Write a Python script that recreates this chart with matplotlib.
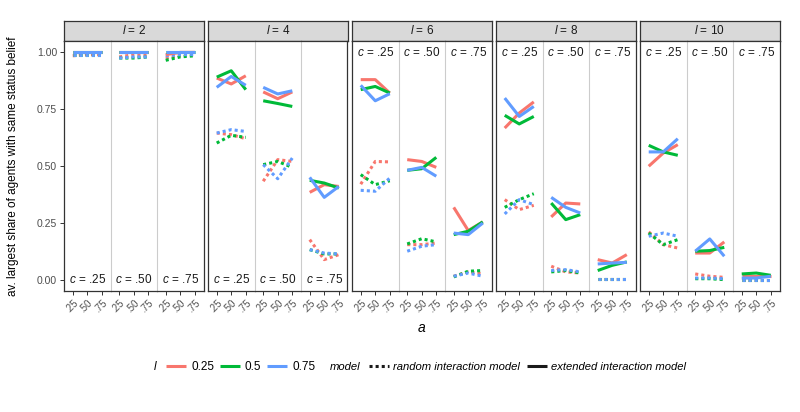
import numpy as np
import matplotlib
matplotlib.use("Agg")
from matplotlib import pyplot as plt
from matplotlib.lines import Line2D

plt.rcParams['font.family'] = ['Liberation Sans', 'DejaVu Sans']
plt.rcParams['mathtext.fontset'] = 'custom'
plt.rcParams['mathtext.it'] = 'Liberation Sans:italic'
plt.rcParams['mathtext.rm'] = 'Liberation Sans'

I_levels = [2, 4, 6, 8, 10]
c_labels = ['.25', '.50', '.75']
a_labels = ['.25', '.50', '.75']
l_labels = ['0.25', '0.5', '0.75']
l_colors = ['#F8766D', '#00BA38', '#619CFF']

# values: [c][l][a]  (l = 0.25, 0.5, 0.75)
ext_I2 = [[[1.0, 1.0, 1.0], [1.0, 1.0, 1.0], [1.0, 1.0, 1.0]],
          [[1.0, 1.0, 1.0], [1.0, 1.0, 1.0], [1.0, 1.0, 1.0]],
          [[0.99, 1.0, 1.0], [1.0, 1.0, 1.0], [1.0, 1.0, 1.0]]]
rnd_I2 = [[[0.985, 0.99, 0.99], [0.99, 0.99, 0.99], [0.99, 0.99, 0.99]],
          [[0.98, 0.99, 0.99], [0.975, 0.975, 0.98], [0.975, 0.98, 0.98]],
          [[0.975, 0.985, 0.99], [0.965, 0.98, 0.985], [0.985, 0.99, 0.99]]]

ext_I4 = [[[0.887, 0.861, 0.897], [0.891, 0.919, 0.836], [0.846, 0.894, 0.855]],
          [[0.826, 0.796, 0.826], [0.787, 0.775, 0.762], [0.846, 0.817, 0.831]],
          [[0.384, 0.418, 0.41], [0.437, 0.425, 0.403], [0.45, 0.362, 0.41]]]
rnd_I4 = [[[0.645, 0.638, 0.62], [0.601, 0.635, 0.626], [0.645, 0.66, 0.652]],
          [[0.433, 0.528, 0.52], [0.506, 0.52, 0.494], [0.506, 0.444, 0.535]],
          [[0.176, 0.088, 0.11], [0.132, 0.113, 0.113], [0.132, 0.117, 0.113]]]

ext_I6 = [[[0.88, 0.88, 0.821], [0.836, 0.85, 0.821], [0.855, 0.787, 0.818]],
          [[0.528, 0.52, 0.494], [0.481, 0.488, 0.538], [0.481, 0.494, 0.455]],
          [[0.318, 0.216, 0.254], [0.198, 0.213, 0.254], [0.205, 0.198, 0.249]]]
rnd_I6 = [[[0.42, 0.52, 0.518], [0.462, 0.418, 0.435], [0.393, 0.389, 0.447]],
          [[0.154, 0.154, 0.161], [0.157, 0.18, 0.166], [0.125, 0.147, 0.154]],
          [[0.015, 0.034, 0.025], [0.012, 0.037, 0.04], [0.015, 0.029, 0.015]]]

ext_I8 = [[[0.667, 0.733, 0.782], [0.723, 0.685, 0.718], [0.799, 0.718, 0.762]],
          [[0.276, 0.337, 0.333], [0.337, 0.264, 0.286], [0.362, 0.318, 0.293]],
          [[0.088, 0.073, 0.11], [0.04, 0.063, 0.078], [0.069, 0.073, 0.076]]]
rnd_I8 = [[[0.352, 0.308, 0.327], [0.318, 0.352, 0.378], [0.289, 0.352, 0.33]],
          [[0.059, 0.034, 0.029], [0.034, 0.04, 0.029], [0.04, 0.044, 0.034]],
          [[0.002, 0.002, 0.002], [0.002, 0.002, 0.002], [0.002, 0.002, 0.002]]]

ext_I10 = [[[0.499, 0.557, 0.594], [0.591, 0.562, 0.547], [0.562, 0.562, 0.62]],
           [[0.117, 0.117, 0.166], [0.125, 0.128, 0.142], [0.125, 0.179, 0.103]],
           [[0.015, 0.015, 0.015], [0.025, 0.029, 0.019], [0.007, 0.007, 0.015]]]
rnd_I10 = [[[0.21, 0.154, 0.139], [0.205, 0.154, 0.176], [0.191, 0.205, 0.191]],
           [[0.025, 0.015, 0.01], [0.004, 0.004, 0.0], [0.007, 0.007, 0.004]],
           [[0.0, 0.0, 0.0], [0.0, 0.0, 0.0], [0.0, 0.0, 0.0]]]

ext = {2: ext_I2, 4: ext_I4, 6: ext_I6, 8: ext_I8, 10: ext_I10}
rnd = {2: rnd_I2, 4: rnd_I4, 6: rnd_I6, 8: rnd_I8, 10: rnd_I10}
label_at_top = {2: False, 4: False, 6: True, 8: True, 10: True}

W, H = 800, 412
fig = plt.figure(figsize=(W / 100, H / 100), dpi=100)
dark = '#333333'
sep = '#CCCCCC'
lw = 2.2
dot = (0, (1, 1))

left0, pw, step = 64, 139.5, 144
top_strip, top_panel, bottom_panel = 21, 41, 291
x = np.arange(1, 4)

for p, I in enumerate(I_levels):
    x0 = left0 + p * step
    sax = fig.add_axes([x0 / W, 1 - top_panel / H, pw / W, (top_panel - top_strip) / H])
    sax.set_facecolor('#D9D9D9')
    sax.set_xticks([])
    sax.set_yticks([])
    for s in sax.spines.values():
        s.set_color(dark)
        s.set_linewidth(0.9)
    sax.text(0.5, 0.5, r'$l$' + f' = {I}', ha='center', va='center', fontsize=8.5,
             color='#1A1A1A', transform=sax.transAxes)

    for k in range(3):
        ax = fig.add_axes([(x0 + k * pw / 3) / W, 1 - bottom_panel / H,
                           (pw / 3) / W, (bottom_panel - top_panel) / H])
        ax.set_xlim(0.4, 3.6)
        ax.set_ylim(-0.05, 1.05)
        for j in range(3):
            ax.plot(x, rnd[I][k][j], color=l_colors[j], lw=lw, ls=dot,
                    dash_capstyle='butt')
        for j in range(3):
            ax.plot(x, ext[I][k][j], color=l_colors[j], lw=lw,
                    solid_capstyle='butt')
        ty = 1.0 if label_at_top[I] else 0.0
        ax.text(2, ty, r'$c$' + f' = {c_labels[k]}', ha='center', va='center',
                fontsize=8.5, color='#1A1A1A')

        ax.set_xticks(x)
        ax.set_xticklabels(a_labels, rotation=45, ha='right', rotation_mode='anchor',
                           fontsize=7, color='#4D4D4D')
        ax.tick_params(axis='x', length=3, color=dark, width=0.7, pad=2)
        if p == 0 and k == 0:
            ax.set_yticks([0, 0.25, 0.5, 0.75, 1.0])
            ax.set_yticklabels(['0.00', '0.25', '0.50', '0.75', '1.00'],
                               fontsize=7.5, color='#4D4D4D')
            ax.tick_params(axis='y', length=3, color=dark, width=0.7, pad=2)
        else:
            ax.set_yticks([])

        for side in ('top', 'bottom'):
            ax.spines[side].set_color(dark)
            ax.spines[side].set_linewidth(0.9)
        if k == 0:
            ax.spines['left'].set_color(dark)
            ax.spines['left'].set_linewidth(0.9)
        else:
            ax.spines['left'].set_color(sep)
            ax.spines['left'].set_linewidth(0.8)
        if k == 2:
            ax.spines['right'].set_color(dark)
            ax.spines['right'].set_linewidth(0.9)
        else:
            ax.spines['right'].set_visible(False)

fig.text((left0 + 4 * step + pw + left0) / 2 / W, 1 - 328 / H,
         r'$a$', ha='center', va='center', fontsize=10)
fig.text(13 / W, 1 - 166 / H, 'av. largest share of agents with same status belief',
         rotation=90, ha='center', va='center', fontsize=8.5)

# legend
ly = 1 - 367 / H
fig.text(154 / W, ly, 'l', style='italic', ha='left', va='center', fontsize=8.5)
h1 = [Line2D([], [], color=c, lw=lw, solid_capstyle='butt') for c in l_colors]
fig.legend(h1, l_labels, loc='center left', bbox_to_anchor=(166 / W, ly),
           ncol=3, frameon=False, fontsize=8.5, handlelength=1.7, handletextpad=0.42,
           columnspacing=0.5, borderpad=0, borderaxespad=0)
fig.text(330 / W, ly, 'model', style='italic', ha='left', va='center', fontsize=8.1)
h2 = [Line2D([], [], color='#1A1A1A', lw=lw, ls=dot, dash_capstyle='butt'),
      Line2D([], [], color='#1A1A1A', lw=lw, solid_capstyle='butt')]
fig.legend(h2, ['random interaction model', 'extended interaction model'],
           loc='center left', bbox_to_anchor=(369 / W, ly),
           ncol=2, frameon=False, prop={'size': 8.1, 'style': 'italic'},
           handlelength=1.75, handletextpad=0.4, columnspacing=0.6,
           borderpad=0, borderaxespad=0)

fig.savefig('out.png', dpi=100)
